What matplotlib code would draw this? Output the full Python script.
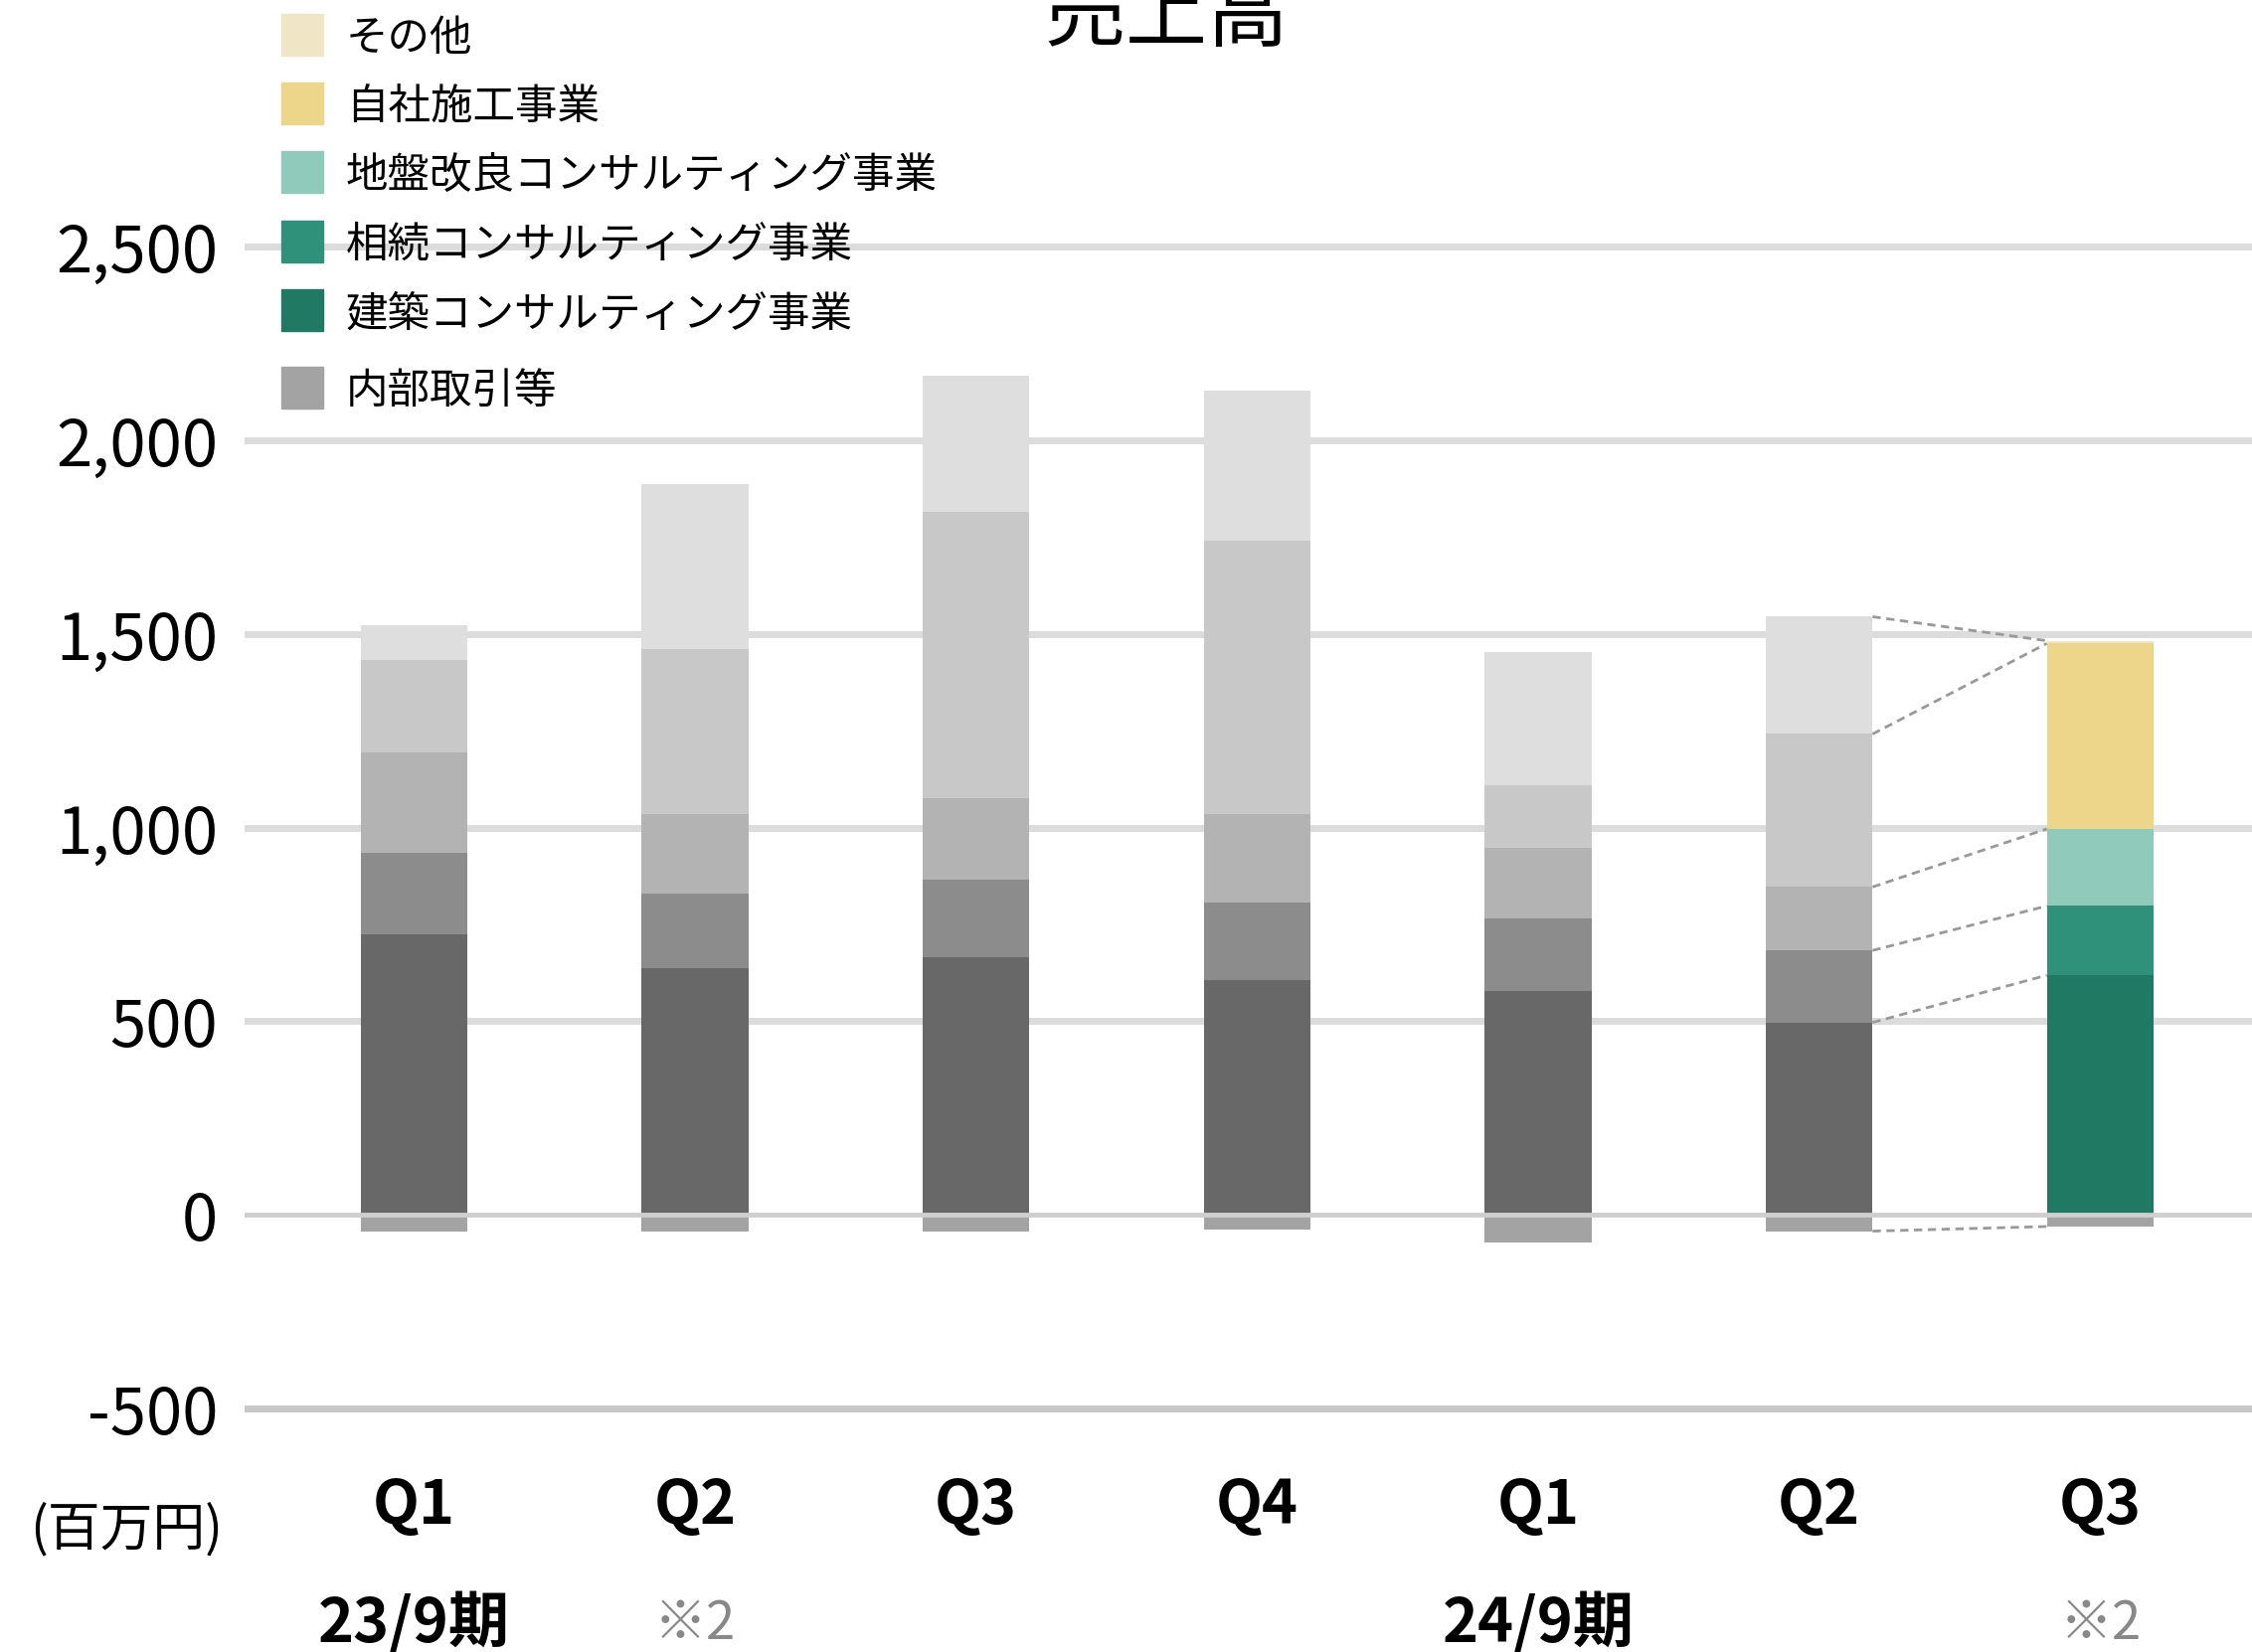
import matplotlib
matplotlib.use("Agg")
import matplotlib.pyplot as plt
import matplotlib.transforms as mtransforms
from matplotlib.patches import Rectangle
import numpy as np

plt.rcParams['font.family'] = ['Noto Sans CJK JP', 'DejaVu Sans']

# 売上高 (百万円)
quarters = ['Q1', 'Q2', 'Q3', 'Q4', 'Q1', 'Q2', 'Q3']
periods = {0: '23/9期', 4: '24/9期'}
notes = {1: '※2', 6: '※2'}

kenchiku = [724, 638, 666, 606, 579, 497, 619]   # 建築コンサルティング事業
souzoku = [210, 193, 201, 200, 186, 186, 179]    # 相続コンサルティング事業
jiban = [260, 205, 210, 230, 184, 164, 199]      # 地盤改良コンサルティング事業
jisha = [240, 425, 740, 706, 162, 395, 479]      # 自社施工事業
sonota = [90, 426, 350, 386, 344, 303, 7]        # その他
naibu = [-43, -43, -43, -37, -72, -42, -30]      # 内部取引等

labels = ['建築コンサルティング事業', '相続コンサルティング事業',
          '地盤改良コンサルティング事業', '自社施工事業', 'その他']
colors = ['#207963', '#30917b', '#8fcabb', '#edd68a', '#f0e6c6']
grays = ['#686868', '#8c8c8c', '#b3b3b3', '#c8c8c8', '#dedede']
naibu_color = '#a3a3a3'

fig = plt.figure(figsize=(22.65, 16.62), dpi=100)
ax = fig.add_axes([0.1085, 0.12, 0.8915, 0.88])

x = np.arange(len(quarters))
w = 0.38
series = [kenchiku, souzoku, jiban, jisha, sonota]
bottom = np.zeros(len(x))
tops = []
for i, vals in enumerate(series):
    vals = np.array(vals, dtype=float)
    cols = [grays[i]] * (len(x) - 1) + [colors[i]]
    ax.bar(x, vals, w, bottom=bottom, color=cols, linewidth=0, zorder=2)
    bottom = bottom + vals
    tops.append(bottom.copy())
ax.bar(x, naibu, w, color=naibu_color, linewidth=0, zorder=2)

# 前四半期との対応線
xa = x[-2] + w / 2
xb = x[-1] - w / 2
for t in tops:
    ax.plot([xa, xb], [t[-2], t[-1]], color='#999999', lw=2, ls=(0, (3, 2)), zorder=3)
ax.plot([xa, xb], [naibu[-2], naibu[-1]], color='#999999', lw=2, ls=(0, (3, 2)), zorder=3)

# grid
for yv in [500, 1000, 1500, 2000, 2500]:
    ax.axhline(yv, color='#dcdcdc', lw=5, zorder=1)
ax.axhline(-500, color='#c8c8c8', lw=5, zorder=1)
ax.axhline(0, color='#cfcfcf', lw=3.5, zorder=4)

ax.set_xlim(-0.603, 6.54)
ax.set_ylim(-617, 3138)
ax.set_yticks([-500, 0, 500, 1000, 1500, 2000, 2500])
ax.set_yticklabels(['-500', '0', '500', '1,000', '1,500', '2,000', '2,500'])
ax.tick_params(axis='y', length=0, labelsize=47, pad=19)
ax.set_xticks([])
for s in ax.spines.values():
    s.set_visible(False)

trans = mtransforms.blended_transform_factory(ax.transData, fig.transFigure)
for i, q in enumerate(quarters):
    ax.text(i, 0.088, q, transform=trans, ha='center', va='center',
            fontsize=44, fontweight='bold')
for i, p in periods.items():
    ax.text(i, 0.017, p, transform=trans, ha='center', va='center',
            fontsize=44, fontweight='bold')
for i, n in notes.items():
    ax.text(i, 0.017, n, transform=trans, ha='center', va='center',
            fontsize=38, color='#888888')

fig.text(0.056, 0.074, '(百万円)', ha='center', va='center', fontsize=38)
fig.text(0.518, 0.976, '売上高', ha='center', va='baseline', fontsize=59)

# legend
leg_items = [('その他', colors[4]), ('自社施工事業', colors[3]),
             ('地盤改良コンサルティング事業', colors[2]),
             ('相続コンサルティング事業', colors[1]),
             ('建築コンサルティング事業', colors[0]), ('内部取引等', naibu_color)]
leg_y = [0.979, 0.9374, 0.8959, 0.8538, 0.8123, 0.7653]
sw, sh = 42 / 2265, 42 / 1662
for (name, c), yy in zip(leg_items, leg_y):
    fig.patches.append(Rectangle((0.125, yy - sh / 2), sw, sh, color=c,
                                 transform=fig.transFigure, zorder=5))
    fig.text(0.1536, yy - 0.0026, name, ha='left', va='center', fontsize=30.6, zorder=6)

plt.savefig('out.png', dpi=100)
